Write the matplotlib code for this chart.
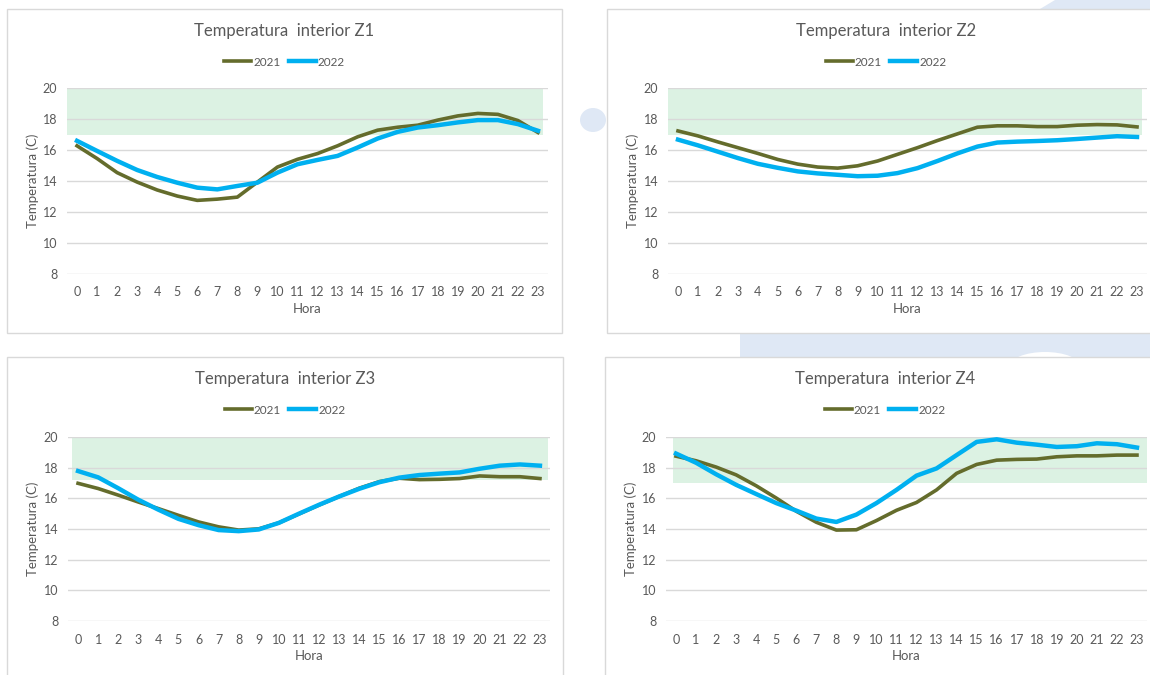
import matplotlib.pyplot as plt
import numpy as np
from matplotlib.patches import Rectangle, Polygon, Ellipse

plt.rcParams['font.family'] = ['Lato', 'DejaVu Sans']

hours = list(range(24))

z1_2021 = [16.27, 15.45, 14.54, 13.93, 13.42, 13.03, 12.75, 12.83, 12.96, 13.93, 14.9, 15.4,
           15.77, 16.27, 16.85, 17.28, 17.47, 17.6, 17.93, 18.2, 18.36, 18.3, 17.9, 17.13]
z1_2022 = [16.59, 15.94, 15.3, 14.71, 14.26, 13.89, 13.57, 13.46, 13.68, 13.89, 14.54, 15.08,
           15.36, 15.62, 16.16, 16.74, 17.17, 17.45, 17.6, 17.78, 17.93, 17.93, 17.67, 17.24]

z2_2021 = [17.23, 16.91, 16.52, 16.15, 15.78, 15.39, 15.09, 14.9, 14.83, 14.98, 15.29, 15.72,
           16.15, 16.61, 17.04, 17.47, 17.56, 17.56, 17.51, 17.51, 17.6, 17.64, 17.62, 17.49]
z2_2022 = [16.67, 16.3, 15.89, 15.48, 15.11, 14.85, 14.62, 14.49, 14.4, 14.31, 14.34, 14.51,
           14.83, 15.29, 15.78, 16.22, 16.48, 16.54, 16.58, 16.63, 16.71, 16.8, 16.89, 16.84]

z3_2021 = [16.98, 16.64, 16.21, 15.76, 15.33, 14.89, 14.46, 14.14, 13.93, 14.01, 14.4, 14.98,
           15.56, 16.12, 16.66, 17.09, 17.31, 17.22, 17.24, 17.29, 17.46, 17.41, 17.41, 17.29]
z3_2022 = [17.78, 17.37, 16.66, 15.91, 15.26, 14.66, 14.25, 13.93, 13.86, 13.97, 14.4, 15.0,
           15.58, 16.12, 16.62, 17.05, 17.35, 17.52, 17.61, 17.69, 17.93, 18.13, 18.21, 18.13]

z4_2021 = [18.75, 18.45, 18.04, 17.53, 16.82, 16.02, 15.16, 14.44, 13.93, 13.95, 14.55, 15.22,
           15.73, 16.55, 17.63, 18.21, 18.49, 18.54, 18.56, 18.71, 18.77, 18.77, 18.82, 18.82]
z4_2022 = [18.92, 18.32, 17.57, 16.88, 16.28, 15.69, 15.2, 14.68, 14.46, 14.94, 15.69, 16.55,
           17.48, 17.95, 18.82, 19.68, 19.85, 19.63, 19.5, 19.35, 19.4, 19.59, 19.53, 19.31]

titles = ['Temperatura  interior Z1', 'Temperatura  interior Z2',
          'Temperatura  interior Z3', 'Temperatura  interior Z4']
series_2021 = [z1_2021, z2_2021, z3_2021, z4_2021]
series_2022 = [z1_2022, z2_2022, z3_2022, z4_2022]
band_low = [17, 17, 17.2, 17]
band_high = [20, 20, 20, 20]
yticks = [8, 10, 12, 14, 16, 18, 20]

W, H = 1150, 675
TXT = '#595959'
OLIVE = '#646c2c'
BLUE = '#00b0f0'
BAND = '#dcf2e3'
BG = '#dfe8f5'


def fx(x):
    return x / W


def fy(y):
    return 1 - y / H


fig = plt.figure(figsize=(11.5, 6.75), dpi=100)
fig.patch.set_facecolor('white')

# fondo decorativo
fig.patches.append(Polygon([[fx(1055), fy(0)], [fx(1150), fy(0)], [fx(1150), fy(12)], [fx(1035), fy(12)]],
                           closed=True, transform=fig.transFigure, facecolor=BG, edgecolor='none', zorder=0))
fig.patches.append(Rectangle((fx(740), fy(357)), fx(410), 24 / H, transform=fig.transFigure,
                             facecolor=BG, edgecolor='none', zorder=0))
fig.patches.append(Ellipse((fx(1045), fy(366)), 70 / W, 28 / H, transform=fig.transFigure,
                           facecolor='white', edgecolor='none', zorder=0.5))
fig.patches.append(Ellipse((fx(593), fy(120)), 26 / W, 24 / H, transform=fig.transFigure,
                           facecolor=BG, edgecolor='none', zorder=0))

# (panel box, axes box, band x-range)
layout = [
    ((7, 9, 562, 333), (67, 88, 548, 274), (-0.5, 23.25)),
    ((607, 9, 1165, 333), (668, 88, 1147, 274), (-0.5, 23.25)),
    ((7, 357, 563, 685), (68, 437, 550, 621), (-0.3, 23.4)),
    ((605, 357, 1165, 685), (666, 437, 1147, 621), (-0.15, 23.5)),
]

for i in range(4):
    (px0, py0, px1, py1), (ax0, ay0, ax1, ay1), (bx0, bx1) = layout[i]
    fig.patches.append(Rectangle((fx(px0), fy(py1)), (px1 - px0) / W, (py1 - py0) / H,
                                 transform=fig.transFigure, facecolor='white',
                                 edgecolor='#d9d9d9', linewidth=1, zorder=1))
    ax = fig.add_axes([fx(ax0), fy(ay1), (ax1 - ax0) / W, (ay1 - ay0) / H])
    ax.set_zorder(2)
    ax.patch.set_alpha(0)
    for s in ax.spines.values():
        s.set_visible(False)
    ax.fill_between([bx0, bx1], band_low[i], band_high[i], color=BAND, linewidth=0, zorder=1)
    for yv in yticks:
        ax.axhline(yv, color='#d9d9d9', linewidth=1, zorder=2)
    l1, = ax.plot(hours, series_2021[i], color=OLIVE, linewidth=2.6, label='2021', zorder=3,
                  solid_joinstyle='round')
    l2, = ax.plot(hours, series_2022[i], color=BLUE, linewidth=3.2, label='2022', zorder=4,
                  solid_joinstyle='round')
    ax.set_xlim(-0.5, 23.5)
    ax.set_ylim(8, 20)
    ax.set_xticks(hours)
    ax.set_yticks(yticks)
    ax.tick_params(length=0, labelsize=9, colors=TXT, pad=7)
    ax.tick_params(axis='x', pad=9)

    cx = fx((px0 + px1) / 2)
    ty = py0 + 22
    fig.text(cx, fy(ty), titles[i], ha='center', va='center', fontsize=12, color=TXT)
    fig.legend(handles=[l1, l2], loc='center', bbox_to_anchor=(cx, fy(py0 + 53)),
               ncol=2, frameon=False, fontsize=8.5, handlelength=2.3, handletextpad=0.15,
               columnspacing=0.7, labelcolor=TXT)
    fig.text(fx(px0 + 26), fy((ay0 + ay1) / 2), 'Temperatura (C)', rotation=90,
             ha='center', va='center', fontsize=9.5, color=TXT)
    fig.text(fx((ax0 + ax1) / 2), fy(ay1 + 35), 'Hora', ha='center', va='center',
             fontsize=9.5, color=TXT)

fig.savefig('out.png', dpi=100)
